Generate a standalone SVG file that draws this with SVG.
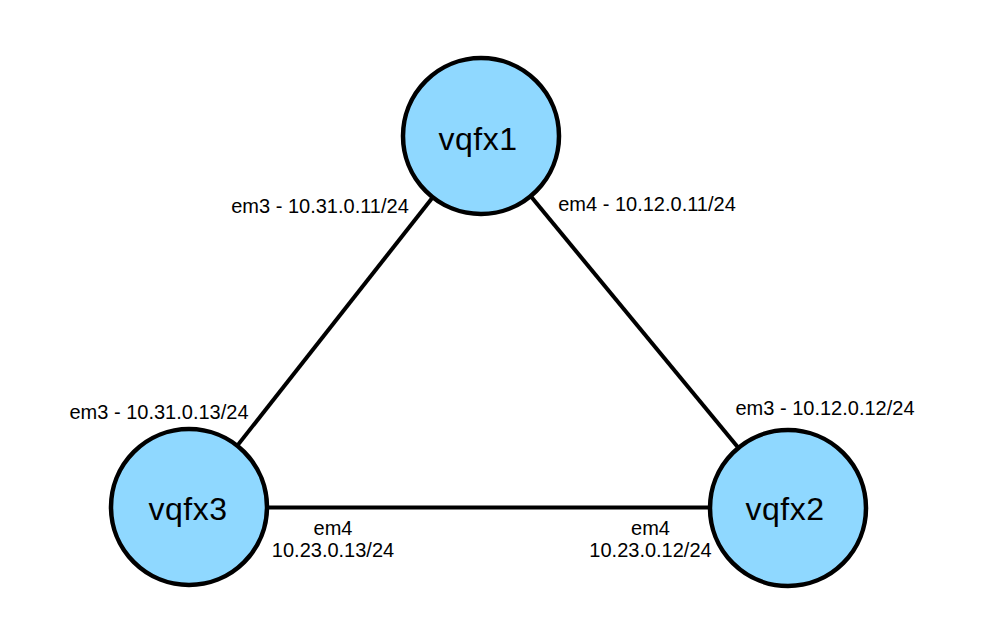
<svg xmlns="http://www.w3.org/2000/svg" width="988" height="644" viewBox="0 0 988 644">
  <style>
    .node circle { fill: #8fd8ff; stroke: #000; stroke-width: 4.5; }
    .node text { font-family: "Liberation Sans", Arial, Helvetica, sans-serif; font-size: 32px; letter-spacing: 0.5px; fill: #000; text-anchor: middle; }
    .edges line { stroke: #000; stroke-width: 4; }
    .lbl { font-family: "Liberation Sans", Arial, Helvetica, sans-serif; font-size: 20px; fill: #000; text-anchor: middle; }
  </style>
  <rect width="988" height="644" fill="#ffffff"/>
  <g id="connectors" class="edges">
    <line x1="481" y1="136" x2="189" y2="507"/>
    <line x1="481" y1="136" x2="788" y2="508"/>
    <line x1="189" y1="507.5" x2="788" y2="507.5"/>
  </g>
  <g id="vqfx1" class="node">
    <circle cx="481" cy="136" r="78"/>
    <text x="478" y="150">vqfx1</text>
  </g>
  <g id="vqfx3" class="node">
    <circle cx="189" cy="507" r="78"/>
    <text x="188" y="520">vqfx3</text>
  </g>
  <g id="vqfx2" class="node">
    <circle cx="788" cy="508" r="78"/>
    <text x="785" y="520">vqfx2</text>
  </g>
  <g id="labels">
    <text class="lbl" x="320" y="213">em3 - 10.31.0.11/24</text>
    <text class="lbl" x="647" y="211">em4 - 10.12.0.11/24</text>
    <text class="lbl" x="159" y="419">em3 - 10.31.0.13/24</text>
    <text class="lbl" x="825" y="415">em3 - 10.12.0.12/24</text>
    <text class="lbl" x="333" y="535">em4</text>
    <text class="lbl" x="333" y="557">10.23.0.13/24</text>
    <text class="lbl" x="650.5" y="535">em4</text>
    <text class="lbl" x="650.5" y="557">10.23.0.12/24</text>
  </g>
</svg>
